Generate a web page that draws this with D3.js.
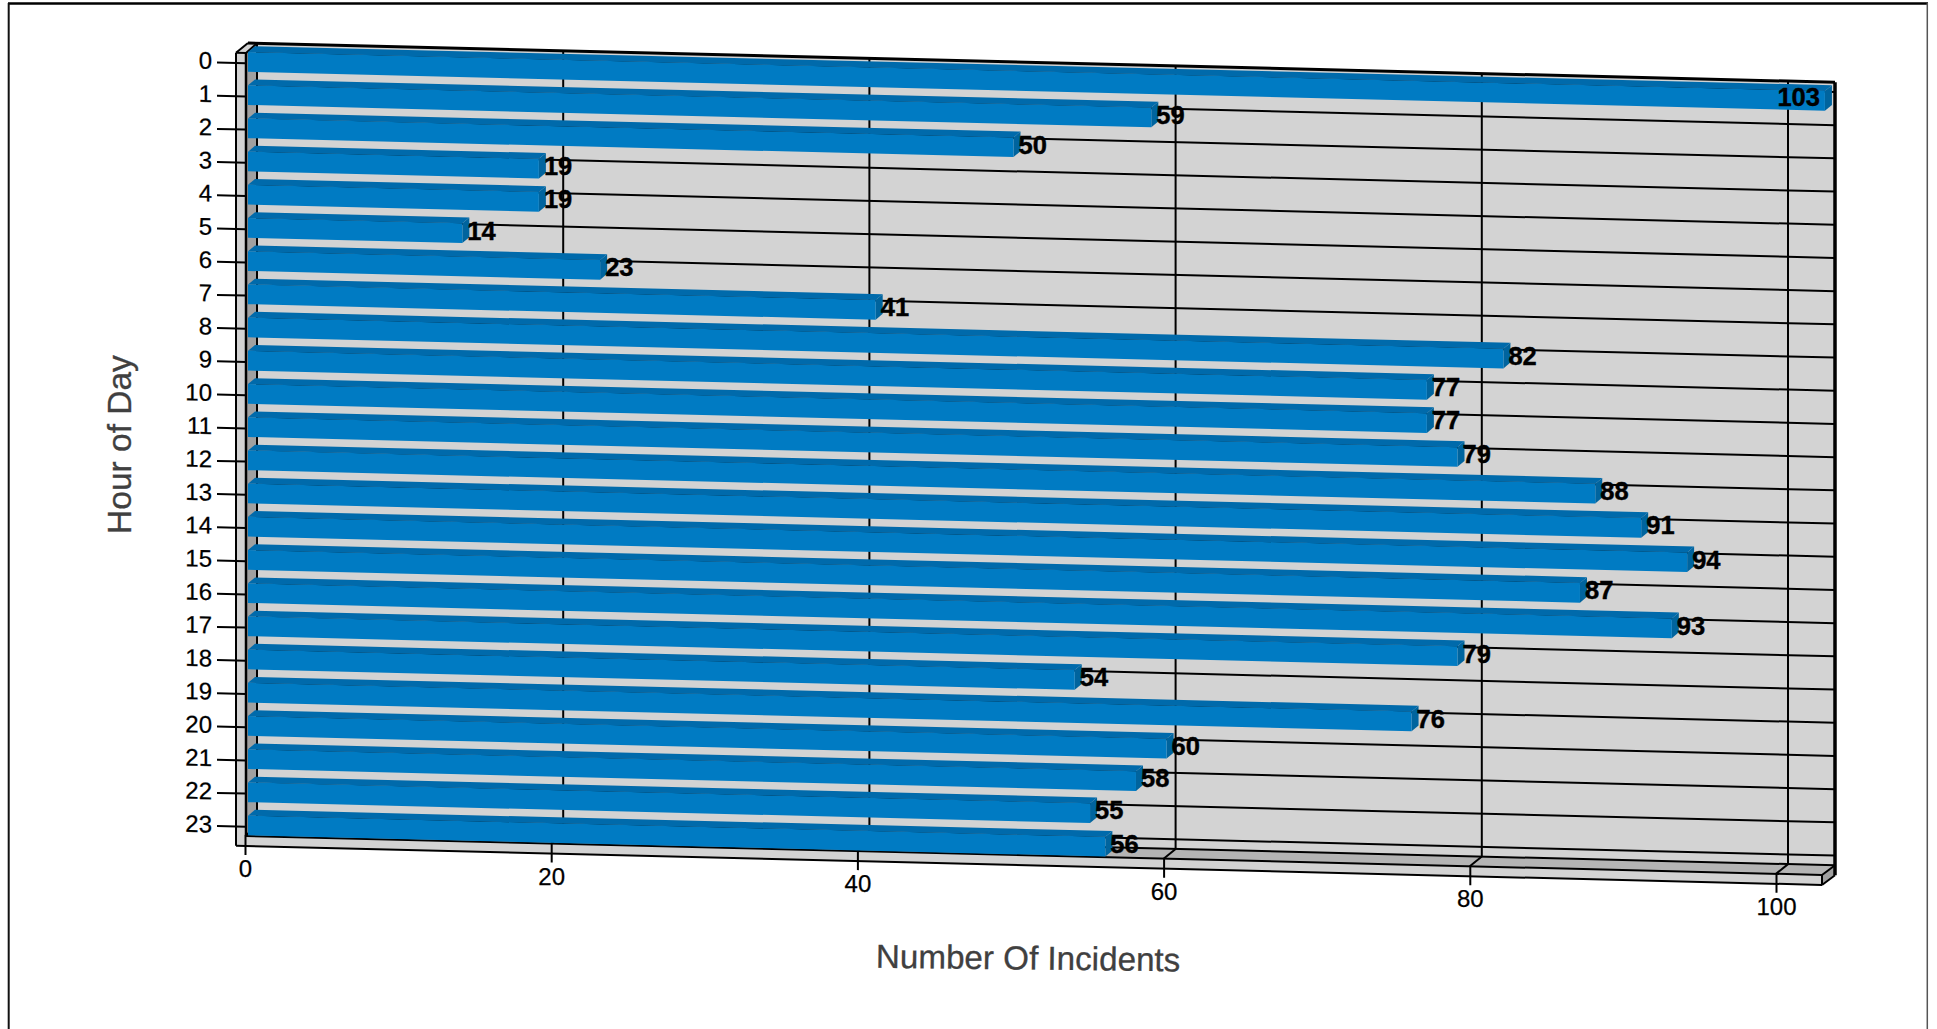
<!doctype html>
<html lang="en">
<head>
<title>incidents by hour</title>
<script src="https://d3js.org/d3.v7.min.js"></script>
<style>
  body { margin: 0; background: #fff; }
  svg { display: block; }
  text { font-family: "Liberation Sans", Arial, sans-serif; }
  .axis line { stroke: #000; stroke-width: 2px; }
  .axis text { font-size: 24px; fill: #000; stroke: #000; stroke-width: 0.25px; }
  .grid line { stroke: #000; stroke-width: 2px; }
</style>
</head>
<body>
<div id="chart"></div>
<script>
var hours = ["0","1","2","3","4","5","6","7","8","9","10","11","12","13","14","15","16","17","18","19","20","21","22","23"];
var incidents = [103,59,50,19,19,14,23,41,82,77,77,79,88,91,94,87,93,79,54,76,60,58,55,56];
var xTicks = [0,20,40,60,80,100];

var W = 1937, H = 1029;
var slope = 0.0247;          // the whole plot leans down to the right
var depthX = 12, depthY = -10; // wall depth
var barDepthX = 7, barDepthY = 6;

var x = d3.scaleLinear().domain([0,100]).range([245,1776]);
var y = d3.scalePoint().domain(hours).range([62.7,826.3]);

// geometry of the box, in unskewed coordinates
var slabL = 236, wallL = 246, frontR = 1822, wallR = 1835;
var wallT = 43, floorB = 836, slabB = 846;
var barLeft = x(0) + 3;

var svg = d3.select("#chart").append("svg").attr("width",W).attr("height",H);

// page border
svg.append("line").attr("x1",8).attr("y1",3.5).attr("x2",1928).attr("y2",3.5).style("stroke","#000").style("stroke-width",2.5);
svg.append("line").attr("x1",8.7).attr("y1",3).attr("x2",8.7).attr("y2",H).style("stroke","#111").style("stroke-width",2);
svg.append("line").attr("x1",1927.3).attr("y1",3).attr("x2",1927.3).attr("y2",H).style("stroke","#555").style("stroke-width",1.5);

function skew(px) { return slope * (px - x(0)); }

var plot = svg.append("g").attr("transform","matrix(1 "+slope+" 0 1 "+0+" "+(-slope*x(0))+")");

function poly(pts, fill) {
  plot.append("polygon").attr("points",pts.map(function(p){return p.join(",");}).join(" ")).style("fill",fill);
}
function seg(x1,y1,x2,y2,w) {
  plot.append("line").attr("x1",x1).attr("y1",y1).attr("x2",x2).attr("y2",y2).style("stroke","#000").style("stroke-width",w||2);
}

// back wall, side wall, floor
var floorBack = floorB + depthY, topFront = wallT - depthY;
poly([[wallL+depthX-1,wallT],[wallR,wallT],[wallR,floorBack],[wallL+depthX-1,floorBack]], "#d3d3d3");
poly([[wallL,topFront],[wallL+depthX-1,wallT],[wallL+depthX-1,floorBack],[wallL,floorB]], "#a0a0a0");
poly([[slabL,topFront],[slabL+depthX,wallT],[wallL+depthX-1,wallT],[wallL,topFront]], "#d3d3d3");
plot.append("rect").attr("x",slabL).attr("y",topFront).attr("width",wallL-slabL).attr("height",slabB-topFront).style("fill","#d3d3d3");
poly([[wallL,floorB],[wallL+depthX-1,floorBack],[wallR,floorBack],[frontR,floorB]], "#b4b4b4");
plot.append("rect").attr("x",wallL).attr("y",floorB).attr("width",frontR-wallL).attr("height",slabB-floorB).style("fill","#d3d3d3");
poly([[frontR,floorB],[wallR,floorBack],[wallR,floorB],[frontR,slabB]], "#a0a0a0");

// grid on the back wall
var grid = plot.append("g").attr("class","grid");
grid.selectAll(".gv").data(xTicks).enter().append("line").attr("class","gv")
  .attr("x1",function(d){return x(d)+depthX;}).attr("x2",function(d){return x(d)+depthX;})
  .attr("y1",wallT).attr("y2",floorBack);
grid.selectAll(".gf").data(xTicks).enter().append("line").attr("class","gf")
  .attr("x1",function(d){return x(d)+depthX;}).attr("x2",function(d){return x(d);})
  .attr("y1",floorBack).attr("y2",floorB);
grid.selectAll(".gh").data(hours).enter().append("line").attr("class","gh")
  .attr("x1",wallL+depthX-1).attr("x2",wallR)
  .attr("y1",function(d){return y(d)+depthY;}).attr("y2",function(d){return y(d)+depthY;});

// box outlines
seg(slabL,topFront,slabL,slabB);
seg(wallL,topFront,wallL,floorB,2.5);
seg(slabL,topFront,slabL+depthX,wallT,2);
seg(wallL,topFront,wallL+depthX-1,wallT,2);
seg(slabL,topFront,wallL,topFront,2);
seg(slabL+depthX,wallT,wallR,wallT,3);
seg(wallR,wallT,wallR,floorB,3.5);
seg(wallL+depthX-1,floorBack,wallR,floorBack,2);
seg(wallL,floorB,frontR,floorB,2);
seg(slabL,slabB,frontR,slabB,2);
seg(frontR,floorB,frontR,slabB,2);
seg(frontR,floorB,wallR,floorBack,2);
seg(frontR,slabB,wallR,floorB,2);

// axes
var xAxis = d3.axisBottom(x).tickValues(xTicks).tickSize(19).tickPadding(5).tickSizeOuter(0);
var xg = plot.append("g").attr("class","axis").attr("transform","translate(0,"+floorB+")").call(xAxis);
xg.select(".domain").remove();
xg.selectAll("text").attr("transform","matrix(1 "+(-slope)+" 0 1 0 0)");

var yAxis = d3.axisLeft(y).tickSize(29).tickPadding(5);
var yg = plot.append("g").attr("class","axis").attr("transform","translate("+wallL+",0)").call(yAxis);
yg.select(".domain").remove();
yg.selectAll("text").attr("dy",".27em");

// bars
var barTop = -10.7, barBot = 9;
var rows = hours.map(function(h,i){ return {hour:h, value:incidents[i]}; });
function end(d) { return barLeft + x(d.value) - x(0); }

var bars = plot.selectAll(".bar").data(rows).enter().append("g").attr("class","bar")
  .attr("transform",function(d){return "translate(0,"+y(d.hour)+")";});
bars.append("polygon").style("fill","#006aab")
  .attr("points",function(d){
    var e = end(d);
    return [[barLeft,barTop],[barLeft+barDepthX,barTop-barDepthY],[e+barDepthX,barTop-barDepthY],[e,barTop]].join(" ");
  });
bars.append("polygon").style("fill","#00649e")
  .attr("points",function(d){
    var e = end(d);
    return [[e,barTop],[e+barDepthX,barTop-barDepthY],[e+barDepthX,barBot-barDepthY],[e,barBot]].join(" ");
  });
bars.append("rect").style("fill","#007bc3")
  .attr("x",barLeft).attr("y",barTop).attr("height",barBot-barTop)
  .attr("width",function(d){return end(d)-barLeft;});

// value labels stay upright, so they sit outside the skewed group
var maxV = d3.max(incidents);
svg.selectAll(".val").data(rows).enter().append("text").attr("class","val")
  .attr("x",function(d){ return d.value==maxV ? end(d)-5 : end(d)+barDepthX-2; })
  .attr("y",function(d){
    var px = d.value==maxV ? end(d)-25 : end(d)+barDepthX+13;
    return y(d.hour)+skew(px)+5;
  })
  .attr("text-anchor",function(d){ return d.value==maxV ? "end" : "start"; })
  .style("font-size","25.5px").style("font-weight","bold").style("fill","#000")
  .style("stroke","#000").style("stroke-width","0.4px")
  .text(function(d){return d.value;});

// axis titles
svg.append("text").attr("transform","translate(131,444.5) rotate(-90)").attr("text-anchor","middle")
  .style("font-size","33.5px").style("fill","#404040").style("stroke","#404040").style("stroke-width","0.3px").text("Hour of Day");
svg.append("text").attr("transform","translate(1028,969.5) rotate(0.7)").attr("text-anchor","middle")
  .style("font-size","33.2px").style("fill","#404040").style("stroke","#404040").style("stroke-width","0.3px").text("Number Of Incidents");
</script>
</body>
</html>
